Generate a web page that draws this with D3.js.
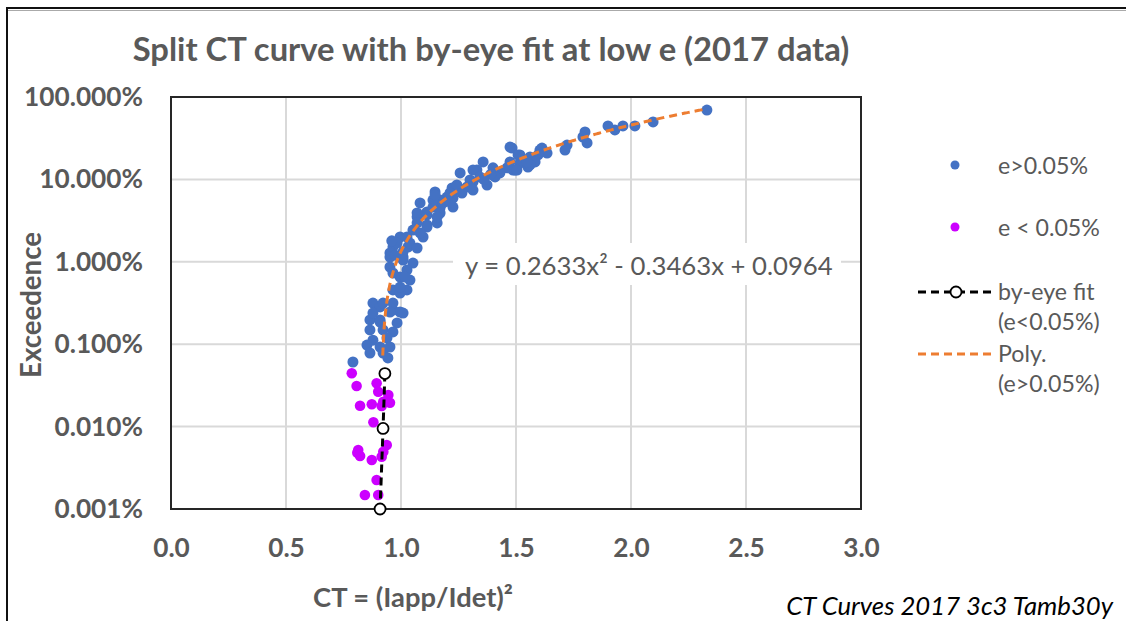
<!DOCTYPE html>
<html>
<head>
<meta charset="utf-8">
<script src="https://cdn.jsdelivr.net/npm/d3@7"></script>
<style>
  body { margin: 0; background: #fff; }
  text { font-family: Lato, "Open Sans", sans-serif; }
</style>
</head>
<body>
<svg id="chart"></svg>
<script>
// e>0.05% series: CT and exceedence (%)
var highCT = [2.33, 2.096, 2.017, 1.965, 1.930, 1.900, 1.800, 1.791, 1.809, 1.722,
  1.713, 1.635, 1.604, 1.613, 1.596, 1.561, 1.583, 1.552, 1.561, 1.517,
  1.483, 1.474, 1.487, 1.474, 1.517, 1.461, 1.496, 1.430, 1.509, 1.548,
  1.504, 1.400, 1.400, 1.357, 1.330, 1.409, 1.374, 1.313, 1.313, 1.257,
  1.287, 1.243, 1.226, 1.200, 1.226, 1.170, 1.170, 1.300, 1.343, 1.222,
  1.265, 1.313, 1.148, 1.139, 1.083, 1.113, 1.070, 1.170, 1.157, 1.113,
  1.052, 0.996, 1.096, 0.965, 1.030, 0.952, 1.009, 1.052, 0.952, 1.026,
  0.996, 1.039, 0.965, 1.026, 0.996, 0.878, 0.909, 0.965, 0.996, 0.865,
  0.909, 1.243, 1.300, 1.213, 1.265, 1.148, 1.183, 1.213, 1.139, 1.070,
  1.113, 1.157, 1.070, 1.113, 1.026, 1.083, 0.983, 1.039, 1.009, 1.070,
  0.952, 1.009, 0.965, 1.017, 0.996, 0.922, 0.965, 0.878, 0.952, 1.009,
  0.909, 0.983, 0.865, 0.922, 0.965, 0.878, 0.939, 0.852, 0.909, 0.952,
  0.865, 0.922, 0.943, 0.791, 0.960, 0.975, 1.390, 1.360];
var highExc = [69.5, 49.8, 44.5, 44.5, 39.8, 44.5, 37.6, 32.7, 27.7, 26.1,
  22.7, 20.9, 22.7, 24.0, 19.8, 18.7, 16.3, 14.1, 15.0, 19.8,
  24.0, 24.7, 13.0, 16.3, 15.8, 13.8, 13.0, 12.0, 19.8, 16.3,
  13.0, 12.3, 13.8, 16.3, 13.0, 10.7, 8.55, 9.30, 13.0, 12.0,
  8.09, 7.43, 5.94, 6.11, 4.62, 5.62, 4.50, 9.84, 10.7, 7.87,
  7.43, 7.43, 7.03, 5.62, 5.18, 4.02, 3.50, 3.91, 2.96, 2.80,
  2.43, 2.00, 2.00, 1.51, 1.51, 1.28, 1.14, 0.966, 0.865, 0.795,
  0.654, 0.601, 0.455, 0.455, 0.418, 0.316, 0.283, 0.260, 0.246, 0.197,
  0.197, 8.55, 8.09, 6.84, 6.84, 6.47, 5.18, 5.32, 4.62, 3.91,
  3.70, 3.50, 2.96, 2.64, 2.00, 2.24, 1.69, 1.69, 1.32, 1.47,
  1.14, 1.05, 0.731, 0.654, 0.494, 0.316, 0.316, 0.239, 0.246, 0.239,
  0.186, 0.181, 0.149, 0.149, 0.141, 0.112, 0.119, 0.0977, 0.0925, 0.0925,
  0.0782, 0.0782, 0.0681, 0.0608, 1.80, 1.20, 11.5, 10.0];

// e<0.05% series
var lowCT = [0.786, 0.807, 0.894, 0.901, 0.945, 0.952, 0.923, 0.873, 0.822, 0.916,
  0.880, 0.938, 0.923, 0.814, 0.822, 0.810, 0.873, 0.916, 0.894, 0.843, 0.901];
var lowExc = [0.0444, 0.0311, 0.0335, 0.0265, 0.0242, 0.0195, 0.0200, 0.0187, 0.0179, 0.0178,
  0.0113, 0.00598, 0.00496, 0.00520, 0.00440, 0.00480, 0.00394, 0.00431, 0.00225, 0.00148, 0.00148];

// by-eye fit points
var eyeCT = [0.930, 0.922, 0.909];
var eyeExc = [0.044, 0.0095, 0.001];

// polynomial trendline on e>0.05% (fraction), drawn from where it turns positive
var polyCoef = [0.2633, -0.3463, 0.0964];
var trendStart = 0.9205;

var xTicks = [0, 0.5, 1, 1.5, 2, 2.5, 3];
var yTicks = [0.001, 0.01, 0.1, 1, 10, 100];

var W = 1126, H = 621;
var plot = {left: 171, right: 861, top: 97, bottom: 509};
var grey = "#595959";
var blue = "#4472C4", pink = "#CC00FF", orange = "#ED7D31";

var svg = d3.select("#chart").attr("width", W).attr("height", H);
svg.append("rect").attr("width", W).attr("height", H).attr("fill", "#fff");

// chart area border (runs off the bottom/right of the shot)
svg.append("rect")
    .attr("x", 7).attr("y", 8).attr("width", 1300).attr("height", 800)
    .attr("fill", "none").attr("stroke", "#111").attr("stroke-width", 2);
svg.append("line")
    .attr("x1", 8).attr("x2", W).attr("y1", 10.5).attr("y2", 10.5)
    .attr("stroke", "#aaa").attr("stroke-width", 1);

var x = d3.scaleLinear().domain([0, 3]).range([plot.left, plot.right]);
var y = d3.scaleLog().domain([0.001, 100]).range([plot.bottom, plot.top]);

// scale a text's font so it fills a given width
function fitWidth(sel, width) {
  var w = sel.node().getComputedTextLength();
  var fs = parseFloat(sel.attr("font-size"));
  sel.attr("font-size", fs * width / w);
  return fs * width / w;
}

// gridlines
svg.append("g").selectAll("line").data(xTicks.slice(1, -1)).enter().append("line")
    .attr("x1", x).attr("x2", x).attr("y1", plot.top).attr("y2", plot.bottom)
    .attr("stroke", "#d9d9d9").attr("stroke-width", 2);
svg.append("g").selectAll("line").data(yTicks.slice(1, -1)).enter().append("line")
    .attr("x1", plot.left).attr("x2", plot.right).attr("y1", y).attr("y2", y)
    .attr("stroke", "#d9d9d9").attr("stroke-width", 2);

// equation label box (covers grid)
var eqG = svg.append("g");
eqG.append("rect").attr("x", 453).attr("y", 243).attr("width", 388).attr("height", 42)
    .attr("fill", "#fff");
var eq = eqG.append("text").attr("x", 465).attr("y", 266).attr("dy", "0.35em")
    .attr("font-size", 20).attr("fill", grey)
    .text("y = 0.2633x² - 0.3463x + 0.0964");
fitWidth(eq, 368);

// axes
var yAxis = svg.append("g").attr("transform", "translate(" + plot.left + ",0)")
    .call(d3.axisLeft(y).tickValues(yTicks).tickSize(0).tickPadding(28)
      .tickFormat(function(d) { return d.toFixed(3) + "%"; }));
var xAxis = svg.append("g").attr("transform", "translate(0," + plot.bottom + ")")
    .call(d3.axisBottom(x).tickValues(xTicks).tickSize(0)
      .tickFormat(d3.format(".1f")));
svg.selectAll(".domain").remove();
svg.selectAll(".tick text").attr("fill", grey).attr("font-weight", "bold")
    .attr("font-family", "Lato, 'Open Sans', sans-serif").attr("font-size", 24);
var tickFs = fitWidth(yAxis.select(".tick:last-of-type text"), 119);
svg.selectAll(".tick text").attr("font-size", tickFs);
xAxis.selectAll(".tick text").attr("y", 39).attr("dy", "0.35em");

// plot frame
svg.append("rect")
    .attr("x", plot.left).attr("y", plot.top)
    .attr("width", plot.right - plot.left).attr("height", plot.bottom - plot.top)
    .attr("fill", "none").attr("stroke", "#262626").attr("stroke-width", 2);

// points
svg.append("g").selectAll("circle").data(d3.range(highCT.length)).enter().append("circle")
    .attr("cx", function(i) { return x(highCT[i]); })
    .attr("cy", function(i) { return y(highExc[i]); })
    .attr("r", 5.5).attr("fill", blue);
svg.append("g").selectAll("circle").data(d3.range(lowCT.length)).enter().append("circle")
    .attr("cx", function(i) { return x(lowCT[i]); })
    .attr("cy", function(i) { return y(lowExc[i]); })
    .attr("r", 5.3).attr("fill", pink);

// trendline
var xMax = d3.max(highCT);
var trendX = d3.range(trendStart, xMax, 0.005).concat([xMax]);
var trend = trendX.map(function(c) {
  return [c, 100 * (polyCoef[0] * c * c + polyCoef[1] * c + polyCoef[2])];
});
svg.append("path").datum(trend)
    .attr("d", d3.line().x(function(d) { return x(d[0]); }).y(function(d) { return y(d[1]); }))
    .attr("fill", "none").attr("stroke", orange).attr("stroke-width", 3)
    .attr("stroke-dasharray", "8,5");

// by-eye fit
var eye = eyeCT.map(function(c, i) { return [c, eyeExc[i]]; });
svg.append("path").datum(eye)
    .attr("d", d3.line().x(function(d) { return x(d[0]); }).y(function(d) { return y(d[1]); }))
    .attr("fill", "none").attr("stroke", "#000").attr("stroke-width", 3)
    .attr("stroke-dasharray", "8,5");
svg.append("g").selectAll("circle").data(eye).enter().append("circle")
    .attr("cx", function(d) { return x(d[0]); }).attr("cy", function(d) { return y(d[1]); })
    .attr("r", 5.5).attr("fill", "#fff").attr("stroke", "#000").attr("stroke-width", 1.8);

// title and axis titles
var title = svg.append("text").attr("x", 491).attr("y", 50).attr("dy", "0.35em")
    .attr("text-anchor", "middle").attr("font-size", 28).attr("font-weight", "bold")
    .attr("fill", grey).text("Split CT curve with by-eye fit at low e (2017 data)");
fitWidth(title, 717);

var xl = svg.append("text").attr("x", 413).attr("y", 597).attr("dy", "0.35em")
    .attr("text-anchor", "middle").attr("font-size", 22).attr("font-weight", "bold")
    .attr("fill", grey).text("CT = (Iapp/Idet)²");
fitWidth(xl, 200);

var yl = svg.append("text").attr("transform", "translate(31,305) rotate(-90)")
    .attr("dy", "0.35em").attr("text-anchor", "middle").attr("font-size", 22)
    .attr("font-weight", "bold").attr("fill", grey).text("Exceedence");
fitWidth(yl, 146);

var foot = svg.append("text").attr("x", 1113).attr("y", 606).attr("dy", "0.35em")
    .attr("text-anchor", "end").attr("font-size", 22).attr("font-style", "italic")
    .attr("fill", "#000").text("CT Curves 2017 3c3 Tamb30y");
fitWidth(foot, 327);

// legend
var lg = svg.append("g");
var lx = 998;
var leg1 = lg.append("text").attr("x", lx).attr("y", 166).attr("dy", "0.35em")
    .attr("font-size", 20).attr("fill", grey).text("e>0.05%");
var legFs = fitWidth(leg1, 90);
function legText(t, yy) {
  lg.append("text").attr("x", lx).attr("y", yy).attr("dy", "0.35em")
      .attr("font-size", legFs).attr("fill", grey).text(t);
}
lg.append("circle").attr("cx", 955).attr("cy", 165).attr("r", 4.5).attr("fill", blue);
lg.append("circle").attr("cx", 955).attr("cy", 227).attr("r", 4.5).attr("fill", pink);
legText("e < 0.05%", 228);
lg.append("line").attr("x1", 918).attr("x2", 994).attr("y1", 292).attr("y2", 292)
    .attr("stroke", "#000").attr("stroke-width", 3).attr("stroke-dasharray", "8,5");
lg.append("circle").attr("cx", 956).attr("cy", 292).attr("r", 5.5)
    .attr("fill", "#fff").attr("stroke", "#000").attr("stroke-width", 1.8);
legText("by-eye fit", 292);
legText("(e<0.05%)", 322);
lg.append("line").attr("x1", 918).attr("x2", 992).attr("y1", 354).attr("y2", 354)
    .attr("stroke", orange).attr("stroke-width", 3).attr("stroke-dasharray", "8,5");
legText("Poly.", 354);
legText("(e>0.05%)", 384);
</script>
</body>
</html>
